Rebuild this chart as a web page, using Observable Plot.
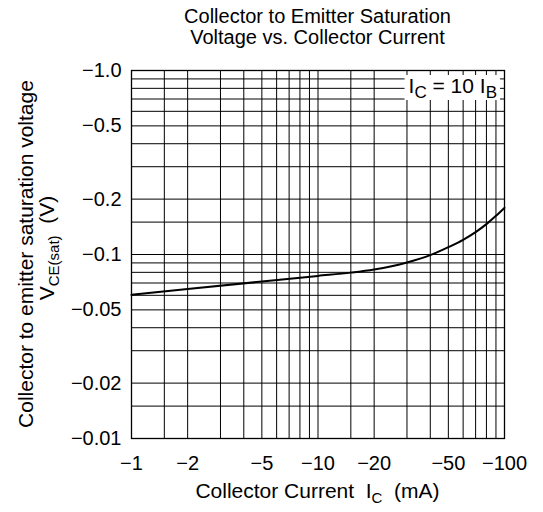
<!DOCTYPE html>
<html>
<head>
<meta charset="utf-8">
<script src="https://cdn.jsdelivr.net/npm/d3@7"></script>
<script src="https://cdn.jsdelivr.net/npm/@observablehq/plot@0.6"></script>
<style>
  html, body { margin: 0; padding: 0; background: #fff; }
  #chart svg { display: block; }
</style>
</head>
<body>
<div id="chart"></div>
<script>
// Collector current (mA, magnitude) and V_CE(sat) (V, magnitude)
const currentMA = [1, 2, 5, 10, 15, 20, 30, 40, 50, 60, 70, 80, 90, 100];
const vceSat    = [0.0604, 0.0649, 0.0713, 0.0765, 0.0797, 0.0829, 0.0905, 0.0992, 0.1096, 0.1202, 0.1323, 0.1462, 0.1623, 0.1793];

// Axis ticks and labels
const xTicks = [1, 2, 5, 10, 20, 50, 100];
const xTickLabels = ["−1", "−2", "−5", "−10", "−20", "−50", "−100"];
const yTicks = [0.01, 0.02, 0.05, 0.1, 0.2, 0.5, 1];
const yTickLabels = ["−0.01", "−0.02", "−0.05", "−0.1", "−0.2", "−0.5", "−1.0"];

// Grid lines
const xGrid = [1, 1.5, 2, 3, 4, 5, 6, 7, 8, 9, 10, 15, 20, 30, 40, 50, 60, 70, 80, 90, 100];
const yGrid = [0.01, 0.015, 0.02, 0.03, 0.04, 0.05, 0.06, 0.07, 0.08, 0.09, 0.1, 0.15, 0.2, 0.3, 0.4, 0.5, 0.6, 0.7, 0.8, 0.9, 1];

// Texts
const titleLines = ["Collector to Emitter Saturation", "Voltage vs. Collector Current"];
const yLabelLine1 = "Collector to emitter saturation voltage";
const annotation = {main1: "I", sub1: "C", main2: " = 10 I", sub2: "B"};

const data = currentMA.map((c, i) => ({ic: c, v: vceSat[i]}));

const W = 543, H = 512;
const M = {top: 70, right: 39, bottom: 74, left: 131};
const FONT = "'Liberation Sans', Arial, Helvetica, sans-serif";

const plot = Plot.plot({
  width: W,
  height: H,
  marginTop: M.top,
  marginRight: M.right,
  marginBottom: M.bottom,
  marginLeft: M.left,
  style: {fontFamily: FONT, fontSize: "20px", background: "#fff", color: "#000", overflow: "visible"},
  x: {type: "log", domain: [1, 100], ticks: xTicks, tickFormat: d => xTickLabels[xTicks.indexOf(d)], tickSize: 0, tickPadding: 17, label: null},
  y: {type: "log", domain: [0.01, 1], ticks: yTicks, tickFormat: d => yTickLabels[yTicks.indexOf(d)], tickSize: 0, tickPadding: 10, label: null},
  marks: [
    Plot.ruleX(xGrid, {stroke: "#000", strokeWidth: 1}),
    Plot.ruleY(yGrid, {stroke: "#000", strokeWidth: 1}),
    Plot.frame({stroke: "#000", strokeWidth: 1.3}),
    Plot.line(data, {x: "ic", y: "v", stroke: "#000", strokeWidth: 2, curve: "monotone-x"})
  ]
});

document.getElementById("chart").appendChild(plot);

const svg = d3.select(plot);
const xs = plot.scale("x"), ys = plot.scale("y");
const x0 = xs.apply(1), x1 = xs.apply(100);
const yTop = ys.apply(1), yBot = ys.apply(0.01);
const cx = (x0 + x1) / 2, cy = (yTop + yBot) / 2;

// Title
const title = svg.append("text")
  .attr("font-family", FONT).attr("font-size", 20).attr("fill", "#000")
  .attr("text-anchor", "middle");
titleLines.forEach((t, i) => {
  title.append("tspan").attr("x", cx).attr("y", 23 + i * 21).text(t);
});

// Y label (two rotated lines)
svg.append("text")
  .attr("font-family", FONT).attr("font-size", 21).attr("fill", "#000")
  .attr("text-anchor", "middle")
  .attr("transform", `translate(33,${cy}) rotate(-90)`)
  .text(yLabelLine1);

const yl2 = svg.append("text")
  .attr("font-family", FONT).attr("font-size", 21).attr("fill", "#000")
  .attr("text-anchor", "middle")
  .attr("transform", `translate(54,${cy - 6}) rotate(-90)`);
yl2.append("tspan").text("V");
yl2.append("tspan").attr("font-size", 15).attr("dy", 5).text("CE(sat)");
yl2.append("tspan").attr("dy", -5).text("\u00a0\u00a0(V)");

// X label
const xl = svg.append("text")
  .attr("font-family", FONT).attr("font-size", 21).attr("fill", "#000")
  .attr("text-anchor", "middle")
  .attr("x", cx).attr("y", 498);
xl.append("tspan").text("Collector Current\u00a0\u00a0I");
xl.append("tspan").attr("font-size", 15).attr("dy", 5).text("C");
xl.append("tspan").attr("dy", -5).text("\u00a0\u00a0(mA)");

// Annotation box: I_C = 10 I_B
const boxRight = x1 - 4, boxTop = yTop + 5;
const ann = svg.append("g");
const rect = ann.append("rect").attr("fill", "#fff");
const at = ann.append("text")
  .attr("font-family", FONT).attr("font-size", 21).attr("fill", "#000")
  .attr("text-anchor", "end")
  .attr("x", boxRight - 3).attr("y", boxTop + 18);
at.append("tspan").text(annotation.main1);
at.append("tspan").attr("font-size", 17).attr("dy", 5).text(annotation.sub1);
at.append("tspan").attr("dy", -5).text(annotation.main2);
at.append("tspan").attr("font-size", 17).attr("dy", 5).text(annotation.sub2);
const bb = at.node().getBBox();
rect.attr("x", bb.x - 4).attr("y", boxTop).attr("width", bb.width + 7).attr("height", 25);
</script>
</body>
</html>
